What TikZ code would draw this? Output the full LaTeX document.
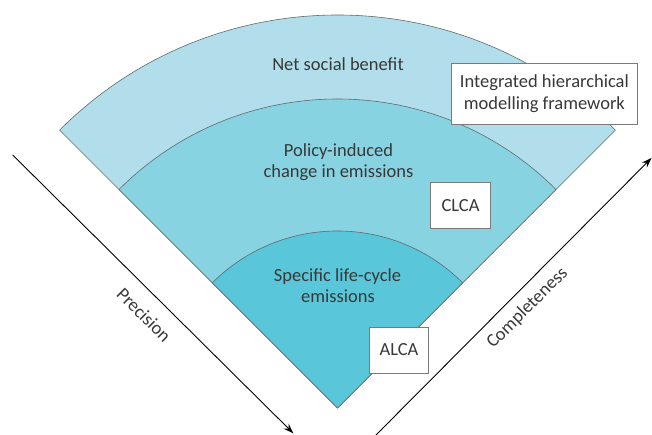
\documentclass[tikz,border=0pt]{standalone}
\usepackage{fontspec}
\setmainfont{Carlito}
\usetikzlibrary{arrows.meta}
\definecolor{outerc}{HTML}{B1DEEA}
\definecolor{midc}{HTML}{88D3E2}
\definecolor{innerc}{HTML}{59C6D9}
\definecolor{edgec}{HTML}{5F6B70}
\definecolor{txtc}{HTML}{383838}
\definecolor{boxc}{HTML}{7A7A7A}
\tikzset{
  sector/.style={draw=edgec, line width=0.6pt},
  lab/.style={text=txtc, font=\fontsize{18.5}{22}\selectfont, inner sep=0pt},
  labbox/.style={draw=boxc, fill=white, line width=0.9pt, text=txtc,
    font=\fontsize{18.5}{22}\selectfont, inner sep=0pt, align=center},
  axisarrow/.style={draw=black, line width=0.9pt, -{Stealth[length=10pt,width=7pt]}}
}
\begin{document}
\begin{tikzpicture}[x=1pt,y=1pt]
\useasboundingbox (0,0) rectangle (652,435);
\coordinate (apex) at (337.5,27);
% sectors
\filldraw[sector, fill=outerc] (apex) -- ++(135:393) arc[start angle=135,end angle=45,radius=393] -- cycle;
\filldraw[sector, fill=midc] (apex) -- ++(135:309) arc[start angle=135,end angle=45,radius=309] -- cycle;
\filldraw[sector, fill=innerc] (apex) -- ++(135:177) arc[start angle=135,end angle=45,radius=177] -- cycle;
% sector labels
\node[lab, anchor=base] (nsb) at (338,364.3) {Net social benefit};
\node[lab, anchor=base] (pol1) at (338.5,278.3) {Policy-induced};
\node[lab, anchor=base] (pol2) at (338.5,257.3) {change in emissions};
\node[lab, anchor=base] (spe1) at (337.5,153.3) {Specific life-cycle};
\node[lab, anchor=base] (spe2) at (338,132.3) {emissions};
% boxes
\node[labbox, minimum width=185.8pt, minimum height=61pt] (ihm) at (544.4,341.2) {Integrated hierarchical\\modelling framework};
\node[labbox, minimum width=59.6pt, minimum height=46.4pt] (clca) at (460.5,229.5) {CLCA};
\node[labbox, minimum width=59.4pt, minimum height=46pt] (alca) at (399,85) {ALCA};
% axes
\coordinate (pstart) at (12.7,280);
\coordinate (pend) at (293.3,1.7);
\coordinate (cstart) at (375,-1);
\coordinate (cend) at (651.5,277);
\draw[axisarrow] (pstart) -- (pend);
\draw[axisarrow] (cstart) -- (cend);
\node[lab, rotate=-45] (prec) at (144,120) {Precision};
\node[lab, rotate=45] (comp) at (527.5,127) {Completeness};
\end{tikzpicture}
\end{document}
